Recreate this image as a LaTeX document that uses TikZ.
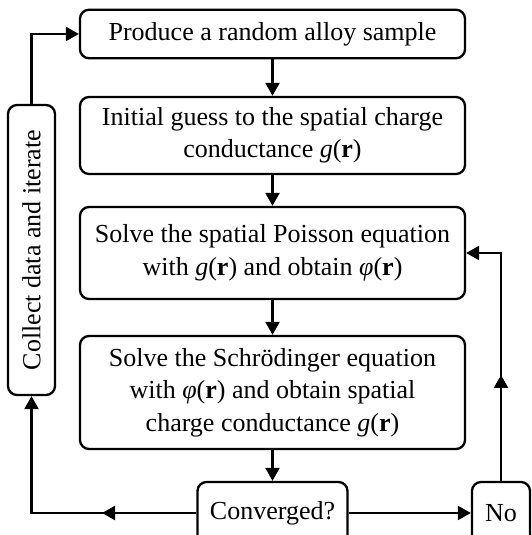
\documentclass[tikz,border=0pt]{standalone}
\usepackage{fontspec}
\setmainfont{Liberation Serif}
\usepackage{tikz}
\usetikzlibrary{arrows.meta}
\tikzset{>={Triangle[length=13pt,width=14pt]}}
\tikzset{
	stepbox/.style={
			draw, line width=2.3pt, rounded corners=9pt, align=center,
			minimum width=385pt, inner sep=4pt,
			font=\fontsize{26}{32.5}\selectfont
		},
	link/.style={line width=2.3pt, ->}
}

\begin{document}
\begin{tikzpicture}[x=1pt,y=1pt]
		\useasboundingbox (0,0) rectangle (532,535);
		\node[stepbox, minimum height=48.5pt] (produce) at (272.5,501) {Produce a random alloy sample};
		\node[stepbox, minimum height=77pt] (guess) at (272.5,399.5) {Initial guess to the spatial charge\\conductance \textit{g}(\textbf{r})};
		\node[stepbox, minimum height=92pt] (poisson) at (272.5,282) {Solve the spatial Poisson equation\\with \textit{g}(\textbf{r}) and obtain \textit{φ}(\textbf{r})};
		\node[stepbox, minimum height=113pt] (schrod) at (272.5,142.5) {Solve the Schrödinger equation\\with \textit{φ}(\textbf{r}) and obtain spatial\\charge conductance \textit{g}(\textbf{r})};
		\node[stepbox, minimum width=150pt, minimum height=62pt] (conv) at (272.5,22) {Converged?};
		\node[stepbox, minimum width=58pt, minimum height=62pt] (no) at (501,22) {No};
		\node[stepbox, rotate=90, minimum width=290pt, minimum height=47pt] (collect) at (31.5,285) {Collect data and iterate};
		\coordinate (leftmid) at (102,22);
		\coordinate (rightmid) at (501,160);
		\draw[link] (produce) -- (guess);
		\draw[link] (guess) -- (poisson);
		\draw[link] (poisson) -- (schrod);
		\draw[link] (schrod) -- (conv);
		\draw[link] (conv) -- (no);
		\draw[link] (no.north) |- (poisson.east);
		\draw[link] (no.north) -- (rightmid);
		\draw[link] (conv.west) -| (collect.west);
		\draw[link] (conv.west) -- (leftmid);
		\draw[link] (collect.east) |- (produce.west);
	\end{tikzpicture}
\end{document}
